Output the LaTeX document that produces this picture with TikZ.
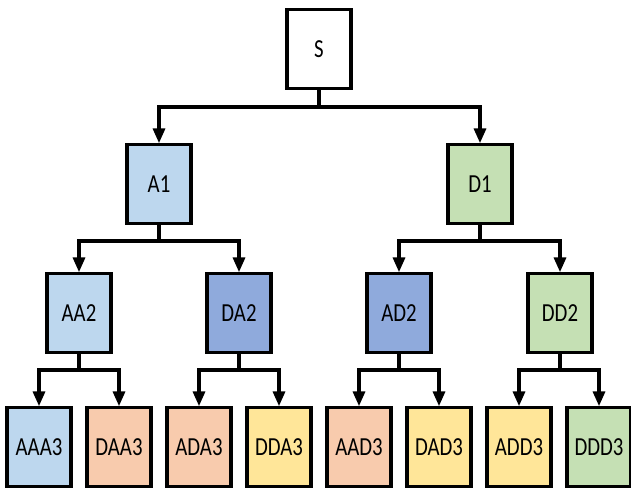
\documentclass[tikz,border=0pt]{standalone}
\usepackage{fontspec}
\newfontfamily\boxfont[FakeStretch=0.8]{Carlito}
\usetikzlibrary{arrows.meta}
\definecolor{lblue}{HTML}{BDD7EE}
\definecolor{mblue}{HTML}{8FAADC}
\definecolor{lgreen}{HTML}{C5E0B4}
\definecolor{peach}{HTML}{F8CBAD}
\definecolor{lyellow}{HTML}{FFE699}
\tikzset{
  box/.style={draw=black, line width=2.3pt, minimum width=48pt, minimum height=59pt,
    inner sep=0pt, font=\boxfont\fontsize{19.5}{22}\selectfont, text=black},
  link/.style={line width=2.3pt, draw=black},
  arr/.style={link, -{Triangle[length=11pt,width=9pt]}}
}
\begin{document}
\begin{tikzpicture}[x=0.75pt,y=-0.75pt]
\useasboundingbox (0,0) rectangle (631,487);
% root
\node[box, fill=white] (S) at (319,49) {S};
% first level
\node[box, fill=lblue] (A1) at (159,184) {A1};
\node[box, fill=lgreen] (D1) at (480,184) {D1};
% second level
\node[box, fill=lblue] (AA2) at (79,313) {AA2};
\node[box, fill=mblue] (DA2) at (239,313) {DA2};
\node[box, fill=mblue] (AD2) at (399,313) {AD2};
\node[box, fill=lgreen] (DD2) at (560,313) {DD2};
% third level
\node[box, fill=lblue] (AAA3) at (39,447) {AAA3};
\node[box, fill=peach] (DAA3) at (119,447) {DAA3};
\node[box, fill=peach] (ADA3) at (199,447) {ADA3};
\node[box, fill=lyellow] (DDA3) at (279,447) {DDA3};
\node[box, fill=peach] (AAD3) at (359,447) {AAD3};
\node[box, fill=lyellow] (DAD3) at (439,447) {DAD3};
\node[box, fill=lyellow] (ADD3) at (519,447) {ADD3};
\node[box, fill=lgreen] (DDD3) at (599,447) {DDD3};
% branching points
\coordinate (jS) at (319,107);
\coordinate (jA1) at (159,241);
\coordinate (jD1) at (480,241);
\coordinate (jAA2) at (79,370);
\coordinate (jDA2) at (239,370);
\coordinate (jAD2) at (399,370);
\coordinate (jDD2) at (560,370);
% connectors
\foreach \p/\l/\r in {S/A1/D1, A1/AA2/DA2, D1/AD2/DD2, AA2/AAA3/DAA3,
                      DA2/ADA3/DDA3, AD2/AAD3/DAD3, DD2/ADD3/DDD3} {
  \draw[link] (\p.south) -- (j\p);
  \draw[arr] (j\p) -| (\l.north);
  \draw[arr] (j\p) -| (\r.north);
}
\end{tikzpicture}
\end{document}
